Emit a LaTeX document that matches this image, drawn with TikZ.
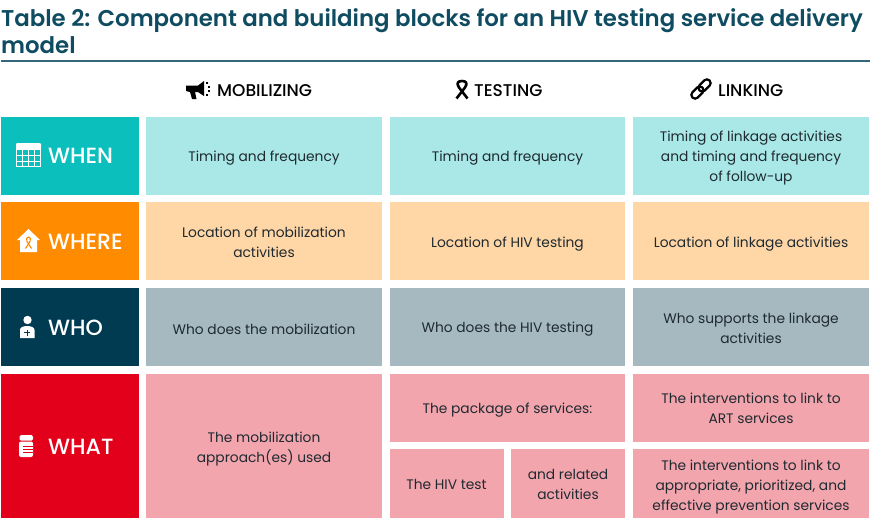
\documentclass[tikz,border=0pt]{standalone}
\usepackage{fontspec}
\setmainfont{Poppins}
\newfontfamily\mediumfont{Poppins Medium}
\newfontfamily\semifont{Poppins SemiBold}
\definecolor{inktitle}{HTML}{0F4C61}
\definecolor{inkbody}{HTML}{1F2A30}
\definecolor{whenhead}{HTML}{0ABFBC}
\definecolor{whencell}{HTML}{A9E8E6}
\definecolor{wherehead}{HTML}{FF8C00}
\definecolor{wherecell}{HTML}{FFD6A6}
\definecolor{whohead}{HTML}{003B52}
\definecolor{whocell}{HTML}{A6B9C1}
\definecolor{whathead}{HTML}{E2001A}
\definecolor{whatcell}{HTML}{F3A5AE}
\tikzset{
  cell/.style={font=\fontsize{13.8}{20}\selectfont,text=inkbody,align=center},
  headlabel/.style={anchor=west,inner sep=0pt,font=\mediumfont\fontsize{22}{23}\selectfont,text=white},
  collabel/.style={anchor=west,inner sep=0pt,font=\mediumfont\fontsize{17}{18}\selectfont,text=black},
}
\begin{document}
\begin{tikzpicture}[x=1pt,y=-1pt]
  \useasboundingbox (0,0) rectangle (877,525);

  % title
  \node[anchor=north west,inner sep=0pt,text=inktitle,align=left,font=\semifont\fontsize{22.85}{27}\selectfont] (title) at (1,8)
    {Table 2: Component and building blocks for an HIV testing service delivery\\model};
  \draw[inktitle!85,line width=1.8pt] (1,61) -- (870,61);

  % column heads
  \node[collabel] (mobilizing) at (217,91) {MOBILIZING};
  \node[collabel] (testing) at (474,91) {TESTING};
  \node[collabel] (linking) at (718,91) {LINKING};

  % row heads
  \fill[whenhead] (1,116.5) rectangle (139,195);
  \fill[wherehead] (1,202) rectangle (139,280);
  \fill[whohead] (1,288) rectangle (139,366);
  \fill[whathead] (1,374) rectangle (139,518);
  \node[headlabel] (when) at (48,156) {WHEN};
  \node[headlabel] (where) at (48,242) {WHERE};
  \node[headlabel] (who) at (48,328) {WHO};
  \node[headlabel] (what) at (48,447) {WHAT};

  % when
  \fill[whencell] (146,116.5) rectangle (382,195);
  \fill[whencell] (390,116.5) rectangle (625,195);
  \fill[whencell] (633,116.5) rectangle (869,195);
  \node[cell] (whenmob) at (264,158) {Timing and frequency};
  \node[cell] (whentest) at (507.5,158) {Timing and frequency};
  \node[cell] (whenlink) at (751,158) {Timing of linkage activities\\and timing and frequency\\of follow-up};

  % where
  \fill[wherecell] (146,202) rectangle (382,280);
  \fill[wherecell] (390,202) rectangle (625,280);
  \fill[wherecell] (633,202) rectangle (869,280);
  \node[cell] (wheremob) at (264,242) {Location of mobilization\\activities};
  \node[cell] (wheretest) at (507.5,244) {Location of HIV testing};
  \node[cell] (wherelink) at (751,244) {Location of linkage activities};

  % who
  \fill[whocell] (146,288) rectangle (382,366);
  \fill[whocell] (390,288) rectangle (625,366);
  \fill[whocell] (633,288) rectangle (869,366);
  \node[cell] (whomob) at (264,329) {Who does the mobilization};
  \node[cell] (whotest) at (507.5,329) {Who does the HIV testing};
  \node[cell] (wholink) at (751,328) {Who supports the linkage\\activities};

  % what
  \fill[whatcell] (146,374) rectangle (382,518);
  \fill[whatcell] (390,374) rectangle (625,442);
  \fill[whatcell] (390,449) rectangle (504,518);
  \fill[whatcell] (511,449) rectangle (625,518);
  \fill[whatcell] (633,374) rectangle (869,442);
  \fill[whatcell] (633,449) rectangle (869,518);
  \node[cell] (whatmob) at (264,449) {The mobilization\\approach(es) used};
  \node[cell] (whatpack) at (507.5,410) {The package of services:};
  \node[cell] (whattest) at (446.5,484) {The HIV test};
  \node[cell] (whatrel) at (568,484) {and related\\activities};
  \node[cell] (whatlink) at (751,408) {The interventions to link to\\ART services};
  \node[cell] (whatprev) at (751,487) {The interventions to link to\\appropriate, prioritized, and\\effective prevention services};

  % megaphone
  \fill[black] (186,85.5) -- (198,85.5) -- (204,81) -- (204,96) -- (198,92) -- (195,92) -- (196.5,99) -- (192,99) -- (190,92) -- (186,91) -- cycle;
  \foreach \yy/\xx in {83/207,87/209,91/209,95/207} \fill[black] (\xx-1.2,\yy-0.6) rectangle (\xx+1.2,\yy+0.6);

  % ribbon
  \draw[black,line width=2.6pt,line join=round] (456.5,98.5) -- (465,87.5) .. controls (468,83) and (466,81) .. (462,81) .. controls (458,81) and (456,83) .. (459,87.5) -- (467.5,98.5);

  % chain
  \begin{scope}[black,line width=2.2pt,rotate around={45:(701,89)}]
    \draw[rounded corners=3.5pt] (689,85.3) rectangle (703,92.7);
    \draw[rounded corners=3.5pt] (699,85.3) rectangle (713,92.7);
  \end{scope}

  % calendar
  \fill[white,rounded corners=1pt] (16,143) rectangle (41,149.5);
  \draw[white,line width=1.1pt] (16.5,149) rectangle (40.5,166.5);
  \foreach \xx in {22.5,28.5,34.5} \draw[white,line width=1pt] (\xx,149) -- (\xx,166.5);
  \foreach \yy in {155,161} \draw[white,line width=1pt] (16.5,\yy) -- (40.5,\yy);

  % house
  \fill[white] (28.5,229) -- (40,240) -- (37,240) -- (37,252) -- (20,252) -- (20,240) -- (17,240) -- cycle;
  \draw[wherehead,line width=1.1pt] (25.5,248.5) -- (30,241.5) .. controls (31.3,239) and (30.2,237) .. (28.5,237) .. controls (26.8,237) and (25.7,239) .. (27,241.5) -- (31.5,248.5);

  % nurse
  \fill[white] (27.5,320) circle (4.2);
  \fill[white] (20,338) -- (20,330) .. controls (20,327.5) and (23,326) .. (27,326) .. controls (31.5,326) and (34.5,327.5) .. (34.5,330) -- (34.5,338) -- cycle;
  \draw[whohead,line width=1.2pt] (27.3,329.5) -- (27.3,335.5) (24.3,332.5) -- (30.3,332.5);

  % bottle
  \fill[white,rounded corners=1.5pt] (19.5,435) rectangle (33,440.5);
  \fill[white,rounded corners=2pt] (19,441.5) rectangle (33,457);
  \foreach \yy in {446,449,452} \draw[whathead,line width=0.7pt] (23,\yy) -- (33,\yy);
\end{tikzpicture}
\end{document}
